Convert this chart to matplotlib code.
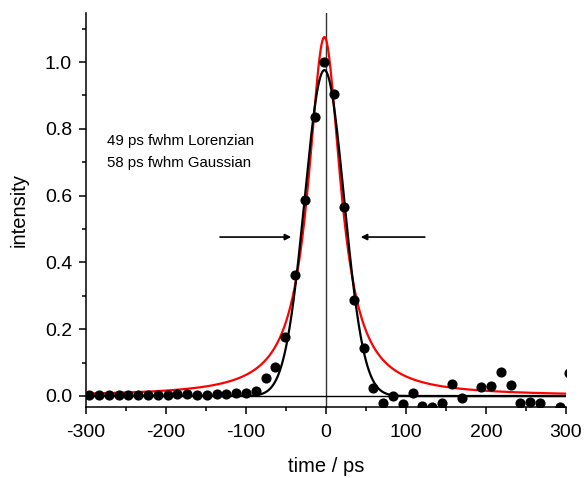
import matplotlib
matplotlib.use("Agg")
import matplotlib.pyplot as plt
import numpy as np

plt.rcParams["font.family"] = ["Liberation Sans", "DejaVu Sans"]
plt.rcParams["axes.unicode_minus"] = False

# measured points (time step ~12.25 ps)
t0, dt = -296.0, 12.25
intensity = [0.004, 0.004, 0.003, 0.004, 0.004, 0.004, 0.003, 0.004, 0.004, 0.005,
             0.006, 0.002, 0.004, 0.005, 0.006, 0.010, 0.008, 0.016, 0.053, 0.088,
             0.178, 0.362, 0.587, 0.835, 1.000, 0.904, 0.567, 0.287, 0.143, 0.023,
             -0.022, 0.000, -0.024, 0.010, -0.029, -0.032, -0.020, 0.037, -0.005, -0.050,
             0.027, 0.030, 0.073, 0.034, -0.021, -0.017, -0.022, -0.050, -0.032, 0.070]
time = t0 + dt * np.arange(len(intensity))

# fit parameters
center = -2.0
lor_amp, lor_fwhm = 1.075, 49.0
gau_amp, gau_fwhm = 0.976, 58.0

tt = np.linspace(-300, 300, 1201)
g = lor_fwhm / 2
lor = lor_amp * g**2 / ((tt - center)**2 + g**2)
s = gau_fwhm / (2 * np.sqrt(2 * np.log(2)))
gau = gau_amp * np.exp(-(tt - center)**2 / (2 * s**2))

fig = plt.figure(figsize=(5.85, 4.78), dpi=100)
ax = fig.add_axes([0.147, 0.1485, 0.8205, 0.8243])

ax.axvline(0, color="#333333", lw=1.0, zorder=1)
ax.axhline(0, color="black", lw=1.0, zorder=1)
ax.plot(tt, lor, color="red", lw=1.6, zorder=2)
ax.plot(tt, gau, color="black", lw=1.6, zorder=3)
ax.plot(time, intensity, "o", color="black", ms=6.3, zorder=4)

# fwhm arrows
ax.annotate("", xy=(-40, 0.476), xytext=(-136, 0.476),
            arrowprops=dict(arrowstyle="-|>", color="black", lw=1.2, mutation_scale=9))
ax.annotate("", xy=(40, 0.476), xytext=(127, 0.476),
            arrowprops=dict(arrowstyle="-|>", color="black", lw=1.2, mutation_scale=9))

ax.text(-274, 0.763, "49 ps fwhm Lorenzian", fontsize=10.8, va="center")
ax.text(-274, 0.698, "58 ps fwhm Gaussian", fontsize=10.8, va="center")

ax.set_xlim(-300, 300)
ax.set_ylim(-0.033, 1.147)
ax.set_xticks(np.arange(-300, 301, 100))
ax.set_xticks(np.arange(-300, 301, 50), minor=True)
ax.set_yticks(np.arange(0, 1.01, 0.2))
ax.set_yticks(np.arange(0, 1.11, 0.1), minor=True)
ax.set_yticklabels([f"{v:.1f}" for v in np.arange(0, 1.01, 0.2)])
ax.tick_params(which="major", length=5, width=1.1, labelsize=14, direction="out")
ax.tick_params(axis="x", which="major", pad=7)
ax.tick_params(axis="y", which="major", pad=5)
ax.tick_params(which="minor", length=2.7, width=1.1, direction="out")
for side in ("top", "right"):
    ax.spines[side].set_visible(False)
for side in ("left", "bottom"):
    ax.spines[side].set_linewidth(1.1)

ax.set_xlabel("time / ps", fontsize=14.5, labelpad=12)
ax.set_ylabel("intensity", fontsize=14.5, labelpad=12)

fig.savefig("out.png", dpi=100)
